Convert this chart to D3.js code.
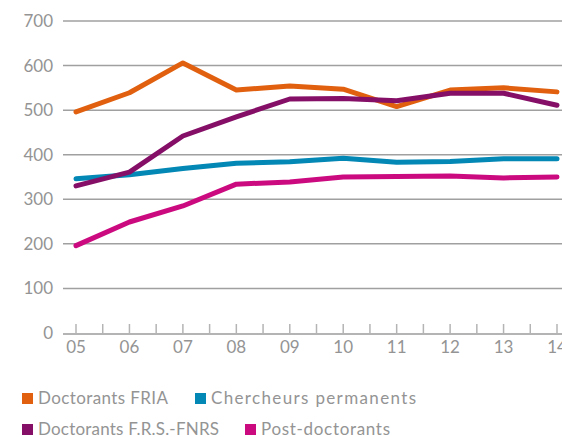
<!DOCTYPE html>
<html>
  <head>
    <meta charset="utf-8">
    <title>Chercheurs</title>
    <script src="https://d3js.org/d3.v7.min.js"></script>
    <style>
      body { margin: 0; background: #fff; }
      text { font-family: "Lato", sans-serif; fill: #949494; }
    </style>
  </head>
  <body>
    <svg id="chart" width="562" height="437"></svg>
    <script>
      // data
      var years = [5, 6, 7, 8, 9, 10, 11, 12, 13, 14];
      var yearLabels = ["05", "06", "07", "08", "09", "10", "11", "12", "13", "14"];
      var yTicks = [0, 100, 200, 300, 400, 500, 600, 700];
      var fria = [496, 539, 606, 545, 554, 547, 508, 545, 550, 541];
      var permanents = [346, 355, 369, 381, 384, 392, 383, 385, 391, 391];
      var fnrs = [330, 361, 442, 485, 525, 526, 521, 538, 538, 511];
      var postdocs = [196, 249, 285, 334, 339, 350, 351, 352, 348, 350];
      var seriesNames = ["Doctorants FRIA", "Chercheurs permanents", "Doctorants F.R.S.-FNRS", "Post-doctorants"];
      var seriesColours = ["#e0600f", "#0387b5", "#850f67", "#cc0a80"];

      var svg = d3.select("#chart");
      var x = d3.scaleLinear().domain([5, 14]).range([76, 557]);
      var y = d3.scaleLinear().domain([0, 700]).range([333, 21]);

      // gridlines
      svg.selectAll(".grid")
          .data(yTicks.slice(1))
        .enter().append("line")
          .attr("x1", 63).attr("x2", 562)
          .attr("y1", function(d) { return y(d); })
          .attr("y2", function(d) { return y(d); })
          .attr("stroke", "#a0a0a0")
          .attr("stroke-width", 1.5);
      svg.selectAll(".ylab")
          .data(yTicks)
        .enter().append("text")
          .attr("x", 53)
          .attr("y", function(d) { return y(d) + 6; })
          .attr("text-anchor", "end")
          .style("font-size", "17px")
          .text(function(d) { return d; });

      // x axis
      svg.append("line")
          .attr("x1", 63).attr("x2", 562)
          .attr("y1", y(0) + 1).attr("y2", y(0) + 1)
          .attr("stroke", "#b4b4b4").attr("stroke-width", 2);
      var minor = d3.range(5, 14.01, 0.5);
      svg.selectAll(".tick")
          .data(minor)
        .enter().append("line")
          .attr("x1", function(d) { return x(d); })
          .attr("x2", function(d) { return x(d); })
          .attr("y1", y(0) - 9).attr("y2", y(0))
          .attr("stroke", "#b4b4b4").attr("stroke-width", 1.5);
      svg.selectAll(".xlab")
          .data(years)
        .enter().append("text")
          .attr("x", function(d) { return x(d); })
          .attr("y", 353)
          .attr("text-anchor", "middle")
          .style("font-size", "17px")
          .text(function(d, i) { return yearLabels[i]; });

      // lines
      var line = d3.line()
        .x(function(d, i) { return x(years[i]); })
        .y(function(d) { return y(d); });
      var allSeries = [postdocs, permanents, fria, fnrs];
      var order = [3, 1, 0, 2];
      allSeries.forEach(function(s, k) {
        svg.append("path")
          .attr("d", line(s))
          .attr("fill", "none")
          .attr("stroke", seriesColours[order[k]])
          .attr("stroke-width", 5)
          .attr("stroke-linecap", "round")
          .attr("stroke-linejoin", "round");
      });

      // legend
      var legendPos = [[22, 393], [195, 393], [22, 424], [245, 424]];
      var legendWidths = [130, 205, 181, 129];
      seriesNames.forEach(function(name, i) {
        var p = legendPos[i];
        svg.append("rect")
          .attr("x", p[0]).attr("y", p[1])
          .attr("width", 11).attr("height", 11)
          .attr("fill", seriesColours[i]);
        svg.append("text")
          .attr("x", p[0] + 16).attr("y", p[1] + 11)
          .attr("textLength", legendWidths[i])
          .attr("lengthAdjust", "spacing")
          .style("font-size", "17px")
          .text(name);
      });
    </script>
  </body>
</html>
